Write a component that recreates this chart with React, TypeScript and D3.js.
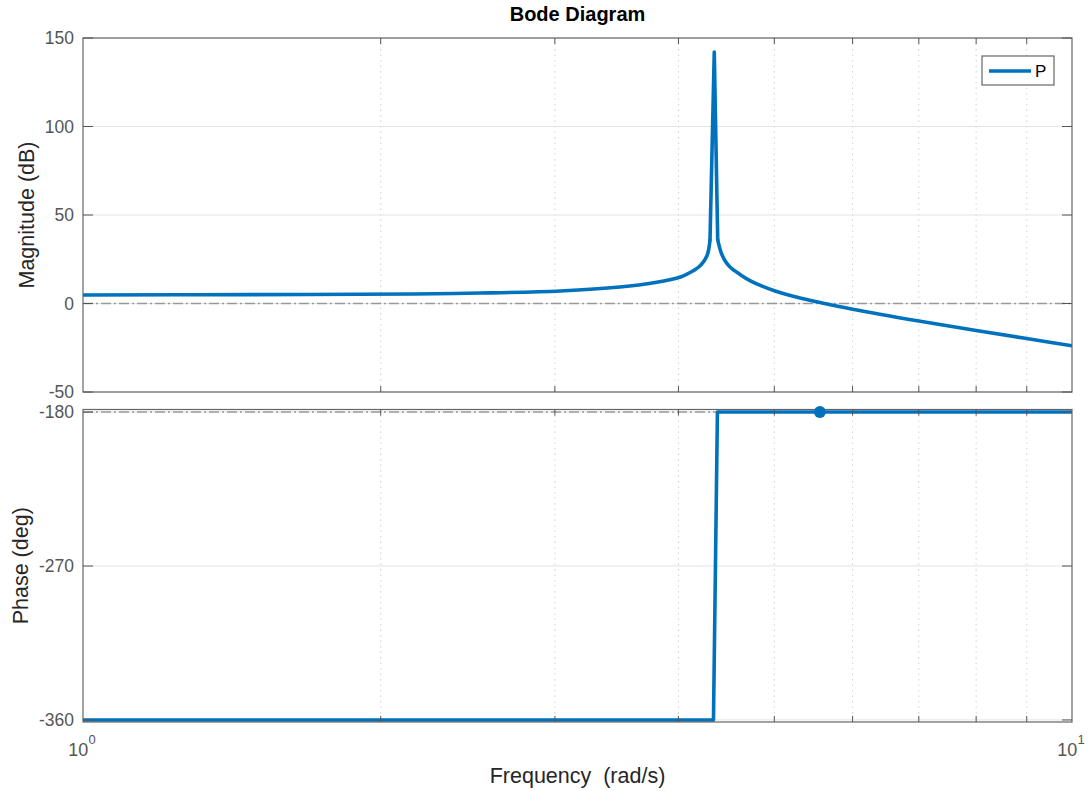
import React from 'react';
import * as d3 from 'd3';

// magnitude response, split at the resonance spike: [frequency rad/s, dB]
const magFreqLow = [1, 1.48, 2.16, 2.52, 3.04, 3.49, 3.79, 4.02, 4.11, 4.21, 4.275, 4.305];
const magDbLow = [4.8, 5.0, 5.4, 5.9, 7.1, 9.3, 11.9, 15.0, 17.5, 21.5, 27.0, 35.9];
const spikeFreq = [4.305, 4.348, 4.383];
const spikeDb = [35.9, 142, 36];
const magFreqHigh = [4.383, 4.42, 4.46, 4.51, 4.62, 4.73, 4.86, 5.01, 5.31, 5.56, 6, 7, 8, 9, 10];
const magDbHigh = [36, 28.5, 24, 20.6, 16.3, 12.8, 9.8, 7.1, 3.1, 0.6, -3.2, -9.9, -15.3, -19.8, -23.9];

// phase response: [frequency rad/s, deg]
const phaseFreq = [1, 4.34, 4.38, 10];
const phaseDeg = [-360, -360, -180, -180];

const marginFreq = 5.56;
const marginPhase = -180;

const magTicks = [-50, 0, 50, 100, 150];
const phaseTicks = [-360, -270, -180];
const minorFreqs = [2, 3, 4, 5, 6, 7, 8, 9];
const legendLabel = 'P';

const W = 1092, H = 791;
const left = 83, right = 1072;
const magTop = 38, magBottom = 392;
const phTop = 409.5, phBottom = 722;
const blue = '#0072BD';
const font = 'Liberation Sans, Arial, Helvetica, sans-serif';

const x = d3.scaleLog().domain([1, 10]).range([left, right]);
const yMag = d3.scaleLinear().domain([-50, 150]).range([magBottom, magTop]);
const yPh = d3.scaleLinear().domain([-361.2, -178.5]).range([phBottom, phTop]);

const Panel = ({ y, top, bottom, ticks, paths, refLine, label }:
  { y: d3.ScaleLinear<number, number>, top: number, bottom: number, ticks: number[], paths: string[], refLine: number, label: string }) => {
  const clipId = 'clip' + label.replace(/\W/g, '');
  return <g>
    <clipPath id={clipId}><rect x={left} y={top} width={right - left} height={bottom - top} /></clipPath>
    <rect x={left} y={top} width={right - left} height={bottom - top} fill="#fff" />
    {/* minor dotted x grid */}
    {minorFreqs.map(f => <line key={'g' + f} x1={x(f)} x2={x(f)} y1={top} y2={bottom}
      stroke="#d0d0d0" strokeWidth={1} strokeDasharray="1.5 4" />)}
    {/* horizontal grid */}
    {ticks.map(t => <line key={'h' + t} x1={left} x2={right} y1={y(t)} y2={y(t)} stroke="#e3e3e3" strokeWidth={1} />)}
    <line x1={left} x2={right} y1={y(refLine)} y2={y(refLine)} stroke="#999" strokeWidth={1.6} strokeDasharray="10 3 2 3" />
    {paths.map((p, i) => <path key={'p' + i} d={p} fill="none" stroke={blue} strokeWidth={3.6}
      clipPath={`url(#${clipId})`} strokeLinejoin="round" strokeLinecap="round" />)}
    {/* box */}
    <rect x={left} y={top} width={right - left} height={bottom - top} fill="none" stroke="#666" strokeWidth={1.2} />
    {/* ticks */}
    {minorFreqs.map(f => <g key={'t' + f}>
      <line x1={x(f)} x2={x(f)} y1={top} y2={top + 6} stroke="#555" />
      <line x1={x(f)} x2={x(f)} y1={bottom} y2={bottom - 6} stroke="#555" />
    </g>)}
    {ticks.map(t => <g key={'yt' + t}>
      <line x1={left} x2={left + 10} y1={y(t)} y2={y(t)} stroke="#555" />
      <line x1={right} x2={right - 10} y1={y(t)} y2={y(t)} stroke="#555" />
      <text x={left - 9} y={y(t)} dy="0.36em" textAnchor="end" fontSize={17.5} fill="#555" fontFamily={font}>{t}</text>
    </g>)}
  </g>;
};

const magPath = (fs: number[], dbs: number[], curve: d3.CurveFactory) =>
  d3.line<number>()
    .x((_, i) => x(fs[i]))
    .y(d => yMag(d))
    .curve(curve)(dbs) || '';

export default function App() {
  const magPaths = [
    magPath(magFreqLow, magDbLow, d3.curveCatmullRom.alpha(0.5)),
    magPath(spikeFreq, spikeDb, d3.curveLinear),
    magPath(magFreqHigh, magDbHigh, d3.curveCatmullRom.alpha(0.5)),
  ];
  const phLine = d3.line<number>()
    .x((_, i) => x(phaseFreq[i]))
    .y(d => yPh(d))(phaseDeg) || '';

  return <svg width={W} height={H} style={{ position: 'absolute', left: 0, top: 0, background: '#fff' }}>
    <rect width={W} height={H} fill="#fff" />
    <text x={(left + right) / 2} y={21} textAnchor="middle" fontSize={20} fontWeight="bold" fill="#000" fontFamily={font}>Bode Diagram</text>

    <Panel y={yMag} top={magTop} bottom={magBottom} ticks={magTicks} paths={magPaths} refLine={0} label="mag" />
    <Panel y={yPh} top={phTop} bottom={phBottom} ticks={phaseTicks} paths={[phLine]} refLine={-180} label="phase" />

    <circle cx={x(marginFreq)} cy={yPh(marginPhase)} r={6} fill={blue} />

    {/* legend */}
    <rect x={982} y={56} width={72} height={29} fill="#fff" stroke="#666" strokeWidth={1.2} />
    <line x1={989} x2={1031} y1={71} y2={71} stroke={blue} strokeWidth={3.6} />
    <text x={1035} y={71} dy="0.36em" fontSize={17} fill="#000" fontFamily={font}>{legendLabel}</text>

    {/* x tick labels */}
    {[1, 10].map(f => <text key={'xl' + f} x={x(f) - 1} y={756} textAnchor="middle" fontSize={18} fill="#555" fontFamily={font}>
      10<tspan dy={-12} fontSize={13}>{Math.round(Math.log10(f))}</tspan>
    </text>)}

    <text x={(left + right) / 2} y={783} textAnchor="middle" fontSize={21.5} fill="#262626" fontFamily={font} style={{ whiteSpace: 'pre' }}>Frequency  (rad/s)</text>
    <text transform={`translate(34,${(magTop + magBottom) / 2}) rotate(-90)`} textAnchor="middle" fontSize={21.5} fill="#262626" fontFamily={font}>Magnitude (dB)</text>
    <text transform={`translate(28,${(phTop + phBottom) / 2}) rotate(-90)`} textAnchor="middle" fontSize={21.5} fill="#262626" fontFamily={font}>Phase (deg)</text>
  </svg>;
}
